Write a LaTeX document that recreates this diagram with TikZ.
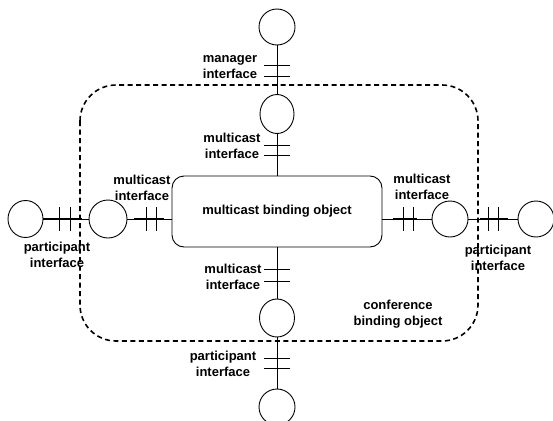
\documentclass[tikz,border=0pt]{standalone}
\usepackage{fontspec}
\setmainfont{Liberation Sans}
\usepackage{tikz}
\usetikzlibrary{shapes.geometric}

\begin{document}
\begin{tikzpicture}[x=1pt, y=-1pt,
    iface/.style={draw, ellipse, line width=0.9pt, inner sep=0pt, fill=white},
    lbl/.style={align=center, font=\bfseries\fontsize{13}{16}\selectfont, inner sep=0pt},
    wire/.style={line width=0.9pt},
    thickwire/.style={line width=1.8pt}]
  \useasboundingbox (0,0) rectangle (553,420);

  % conference binding object: dashed outline
  \draw[line width=1.6pt, dash pattern=on 5pt off 3.5pt, rounded corners=36pt]
    (80,85) rectangle (478,341);

  % central object
  \node[draw, line width=0.9pt, rounded corners=12pt, minimum width=210pt, minimum height=71pt, lbl]
    (mbo) at (277,211.5) {multicast binding object};

  % interfaces
  \node[iface, minimum width=36pt, minimum height=36pt] (mgr)  at (277,27) {};
  \node[iface, minimum width=34pt, minimum height=39pt] (itop) at (277,114) {};
  \node[iface, minimum width=35pt, minimum height=38pt] (ibot) at (277,318) {};
  \node[iface, minimum width=36pt, minimum height=36pt] (pbot) at (277,407) {};
  \node[iface, minimum width=35pt, minimum height=37pt] (pleft)  at (25.5,219) {};
  \node[iface, minimum width=38pt, minimum height=38pt] (ileft)  at (108,219) {};
  \node[iface, minimum width=36pt, minimum height=36pt] (iright) at (450,219) {};
  \node[iface, minimum width=36pt, minimum height=36pt] (pright) at (536,219) {};

  % vertical bindings
  \draw[wire] (mgr) -- (itop);
  \draw[wire] (itop) -- (mbo);
  \draw[wire] (mbo) -- (ibot);
  \draw[wire] (ibot) -- (pbot);
  % horizontal bindings
  \draw[wire] (pleft) -- (ileft);
  \draw[wire] (ileft) -- (ileft -| mbo.west);
  \draw[wire] (iright -| mbo.east) -- (iright);
  \draw[wire] (iright) -- (pright);
  \foreach \a/\b in {43/82, 134/164, 393/417, 480/508} {
    \draw[thickwire] (\a,219) -- (\b,219);
  }

  % ticks
  \foreach \y in {65,76,145,155,269,281,358,368} {
    \draw[wire] (264,\y) -- (290,\y);
  }
  \foreach \x in {59,70,146,156,403,413,488,498} {
    \draw[wire] (\x,207) -- (\x,231);
  }

  % labels
  \node[lbl] at (230,67.5) {manager\\interface};
  \node[lbl] at (232,146) {multicast\\interface};
  \node[lbl] at (142,187.5) {multicast\\interface};
  \node[lbl] at (422,187) {multicast\\interface};
  \node[lbl] at (233,276.5) {multicast\\interface};
  \node[lbl] at (398,314) {conference\\binding object};
  \node[lbl] at (223,363.5) {participant\\interface};
  \node[lbl] at (57,255) {participant\\interface};
  \node[lbl] at (498,257.5) {participant\\interface};
\end{tikzpicture}
\end{document}
